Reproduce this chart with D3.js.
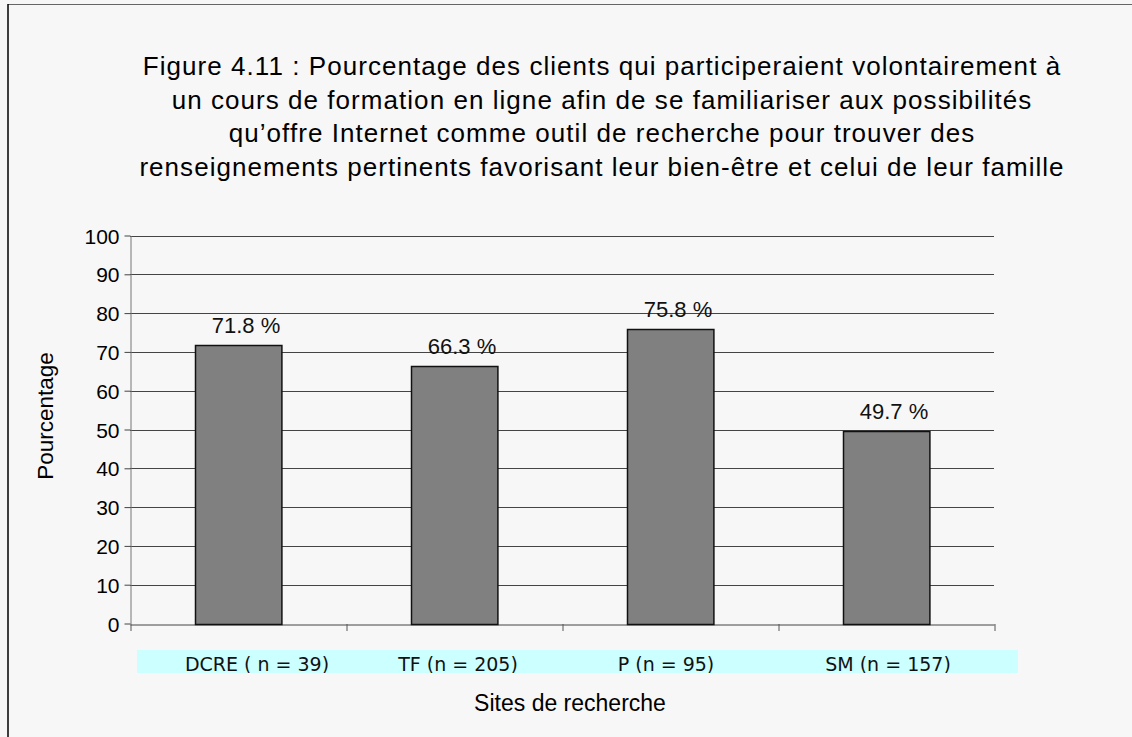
<!DOCTYPE html>
<html>
<head>
<meta charset="utf-8">
<script src="https://cdn.jsdelivr.net/npm/d3@7"></script>
<style>
  body { margin: 0; background: #f7f7f7; }
  svg { display: block; }
</style>
</head>
<body>
<div id="chart"></div>
<script>
// Data
const sites = ["DCRE ( n = 39)", "TF (n = 205)", "P (n = 95)", "SM (n = 157)"];
const percentages = [71.8, 66.3, 75.8, 49.7];
const valueLabels = ["71.8 %", "66.3 %", "75.8 %", "49.7 %"];
const yTicks = [0, 10, 20, 30, 40, 50, 60, 70, 80, 90, 100];
const titleLines = [
  "Figure 4.11 : Pourcentage des clients qui participeraient volontairement à",
  "un cours de formation en ligne afin de se familiariser aux possibilités",
  "qu’offre Internet comme outil de recherche pour trouver des",
  "renseignements pertinents favorisant leur bien-être et celui de leur famille"
];

const width = 1132, height = 737;
const margin = { top: 236, right: 138, bottom: 113, left: 130 };
const sans = "Liberation Sans, Arial, Helvetica, sans-serif";

const svg = d3.select("#chart")
  .append("svg")
  .attr("width", width)
  .attr("height", height);

// background + frame
svg.append("rect")
  .attr("width", width).attr("height", height)
  .attr("fill", "#f7f7f7");
svg.append("line")
  .attr("x1", 8).attr("x2", width).attr("y1", 4.5).attr("y2", 4.5)
  .attr("stroke", "#666").attr("stroke-width", 1);
svg.append("line")
  .attr("x1", 8).attr("x2", 8).attr("y1", 4).attr("y2", height)
  .attr("stroke", "#000").attr("stroke-width", 1.5);

// title
svg.append("text")
  .attr("text-anchor", "middle")
  .attr("font-family", sans)
  .attr("font-size", 26)
  .attr("letter-spacing", "1.05px")
  .attr("fill", "#000")
  .selectAll("tspan")
  .data(titleLines)
  .join("tspan")
  .attr("x", 602)
  .attr("y", (d, i) => 75 + i * 33.5)
  .text(d => d);

const x = d3.scaleBand()
  .domain(sites)
  .range([margin.left, width - margin.right])
  .paddingInner(0)
  .paddingOuter(0);

const y = d3.scaleLinear()
  .domain([0, 100])
  .range([height - margin.bottom - 0.5, margin.top - 0.5]);

// gridlines
svg.append("g")
  .selectAll("line")
  .data(yTicks.filter(d => d > 0))
  .join("line")
  .attr("x1", margin.left)
  .attr("x2", width - margin.right)
  .attr("y1", d => Math.round(y(d)) + 0.5)
  .attr("y2", d => Math.round(y(d)) + 0.5)
  .attr("stroke", "#444")
  .attr("stroke-width", 1);

// y axis
const yAxis = svg.append("g")
  .attr("transform", `translate(${margin.left + 0.5},0)`)
  .call(d3.axisLeft(y).tickValues(yTicks).tickSize(6).tickSizeOuter(0));
yAxis.select(".domain").attr("stroke", "#777");
yAxis.selectAll(".tick line").attr("stroke", "#444");
yAxis.selectAll(".tick text")
  .attr("font-family", sans)
  .attr("font-size", 21)
  .attr("fill", "#000")
  .attr("dy", "0.36em")
  .attr("x", -11);

// x axis
const xAxis = svg.append("g")
  .attr("transform", `translate(0,${Math.round(y(0)) + 0.5})`)
  .call(d3.axisBottom(x).tickSize(0).tickSizeOuter(0).tickFormat(""));
xAxis.select(".domain").attr("stroke", "#444");
svg.append("g")
  .selectAll("line")
  .data(d3.range(sites.length + 1))
  .join("line")
  .attr("x1", i => margin.left + 1 + i * x.step())
  .attr("x2", i => margin.left + 1 + i * x.step())
  .attr("y1", Math.round(y(0)))
  .attr("y2", Math.round(y(0)) + 7)
  .attr("stroke", "#555");

// bars
const barW = x.bandwidth() * 0.4;
svg.append("g")
  .selectAll("rect")
  .data(percentages)
  .join("rect")
  .attr("x", (d, i) => Math.round(x(sites[i]) + (x.bandwidth() - barW) / 2) + 0.5)
  .attr("y", d => Math.round(y(d)) + 0.5)
  .attr("width", barW)
  .attr("height", d => Math.round(y(0)) - Math.round(y(d)))
  .attr("fill", "#808080")
  .attr("stroke", "#111")
  .attr("stroke-width", 1.5);

// value labels
svg.append("g")
  .selectAll("text")
  .data(percentages)
  .join("text")
  .attr("x", (d, i) => x(sites[i]) + x.bandwidth() / 2 + 8)
  .attr("y", d => y(d) - 12)
  .attr("text-anchor", "middle")
  .attr("font-family", sans)
  .attr("font-size", 22)
  .attr("fill", "#111")
  .text((d, i) => valueLabels[i]);

// cyan category band
svg.append("rect")
  .attr("x", 137).attr("y", 650)
  .attr("width", 881).attr("height", 23)
  .attr("fill", "#ccffff");

svg.append("clipPath").attr("id", "bandclip")
  .append("rect").attr("x", 137).attr("y", 640).attr("width", 881).attr("height", 33);

svg.append("g")
  .attr("clip-path", "url(#bandclip)")
  .selectAll("text")
  .data(sites)
  .join("text")
  .attr("x", (d, i) => x(d) + x.bandwidth() / 2 + [19, 4, -4, 2][i])
  .attr("y", 671)
  .attr("text-anchor", "middle")
  .attr("font-family", "DejaVu Sans, Verdana, sans-serif")
  .attr("font-size", 19)
  .attr("fill", "#111")
  .text(d => d);

// axis titles
svg.append("text")
  .attr("x", 570).attr("y", 711)
  .attr("text-anchor", "middle")
  .attr("font-family", sans)
  .attr("font-size", 23)
  .attr("fill", "#000")
  .text("Sites de recherche");

svg.append("text")
  .attr("transform", `translate(53,416) rotate(-90)`)
  .attr("text-anchor", "middle")
  .attr("font-family", sans)
  .attr("font-size", 22.5)
  .attr("fill", "#000")
  .text("Pourcentage");
</script>
</body>
</html>
